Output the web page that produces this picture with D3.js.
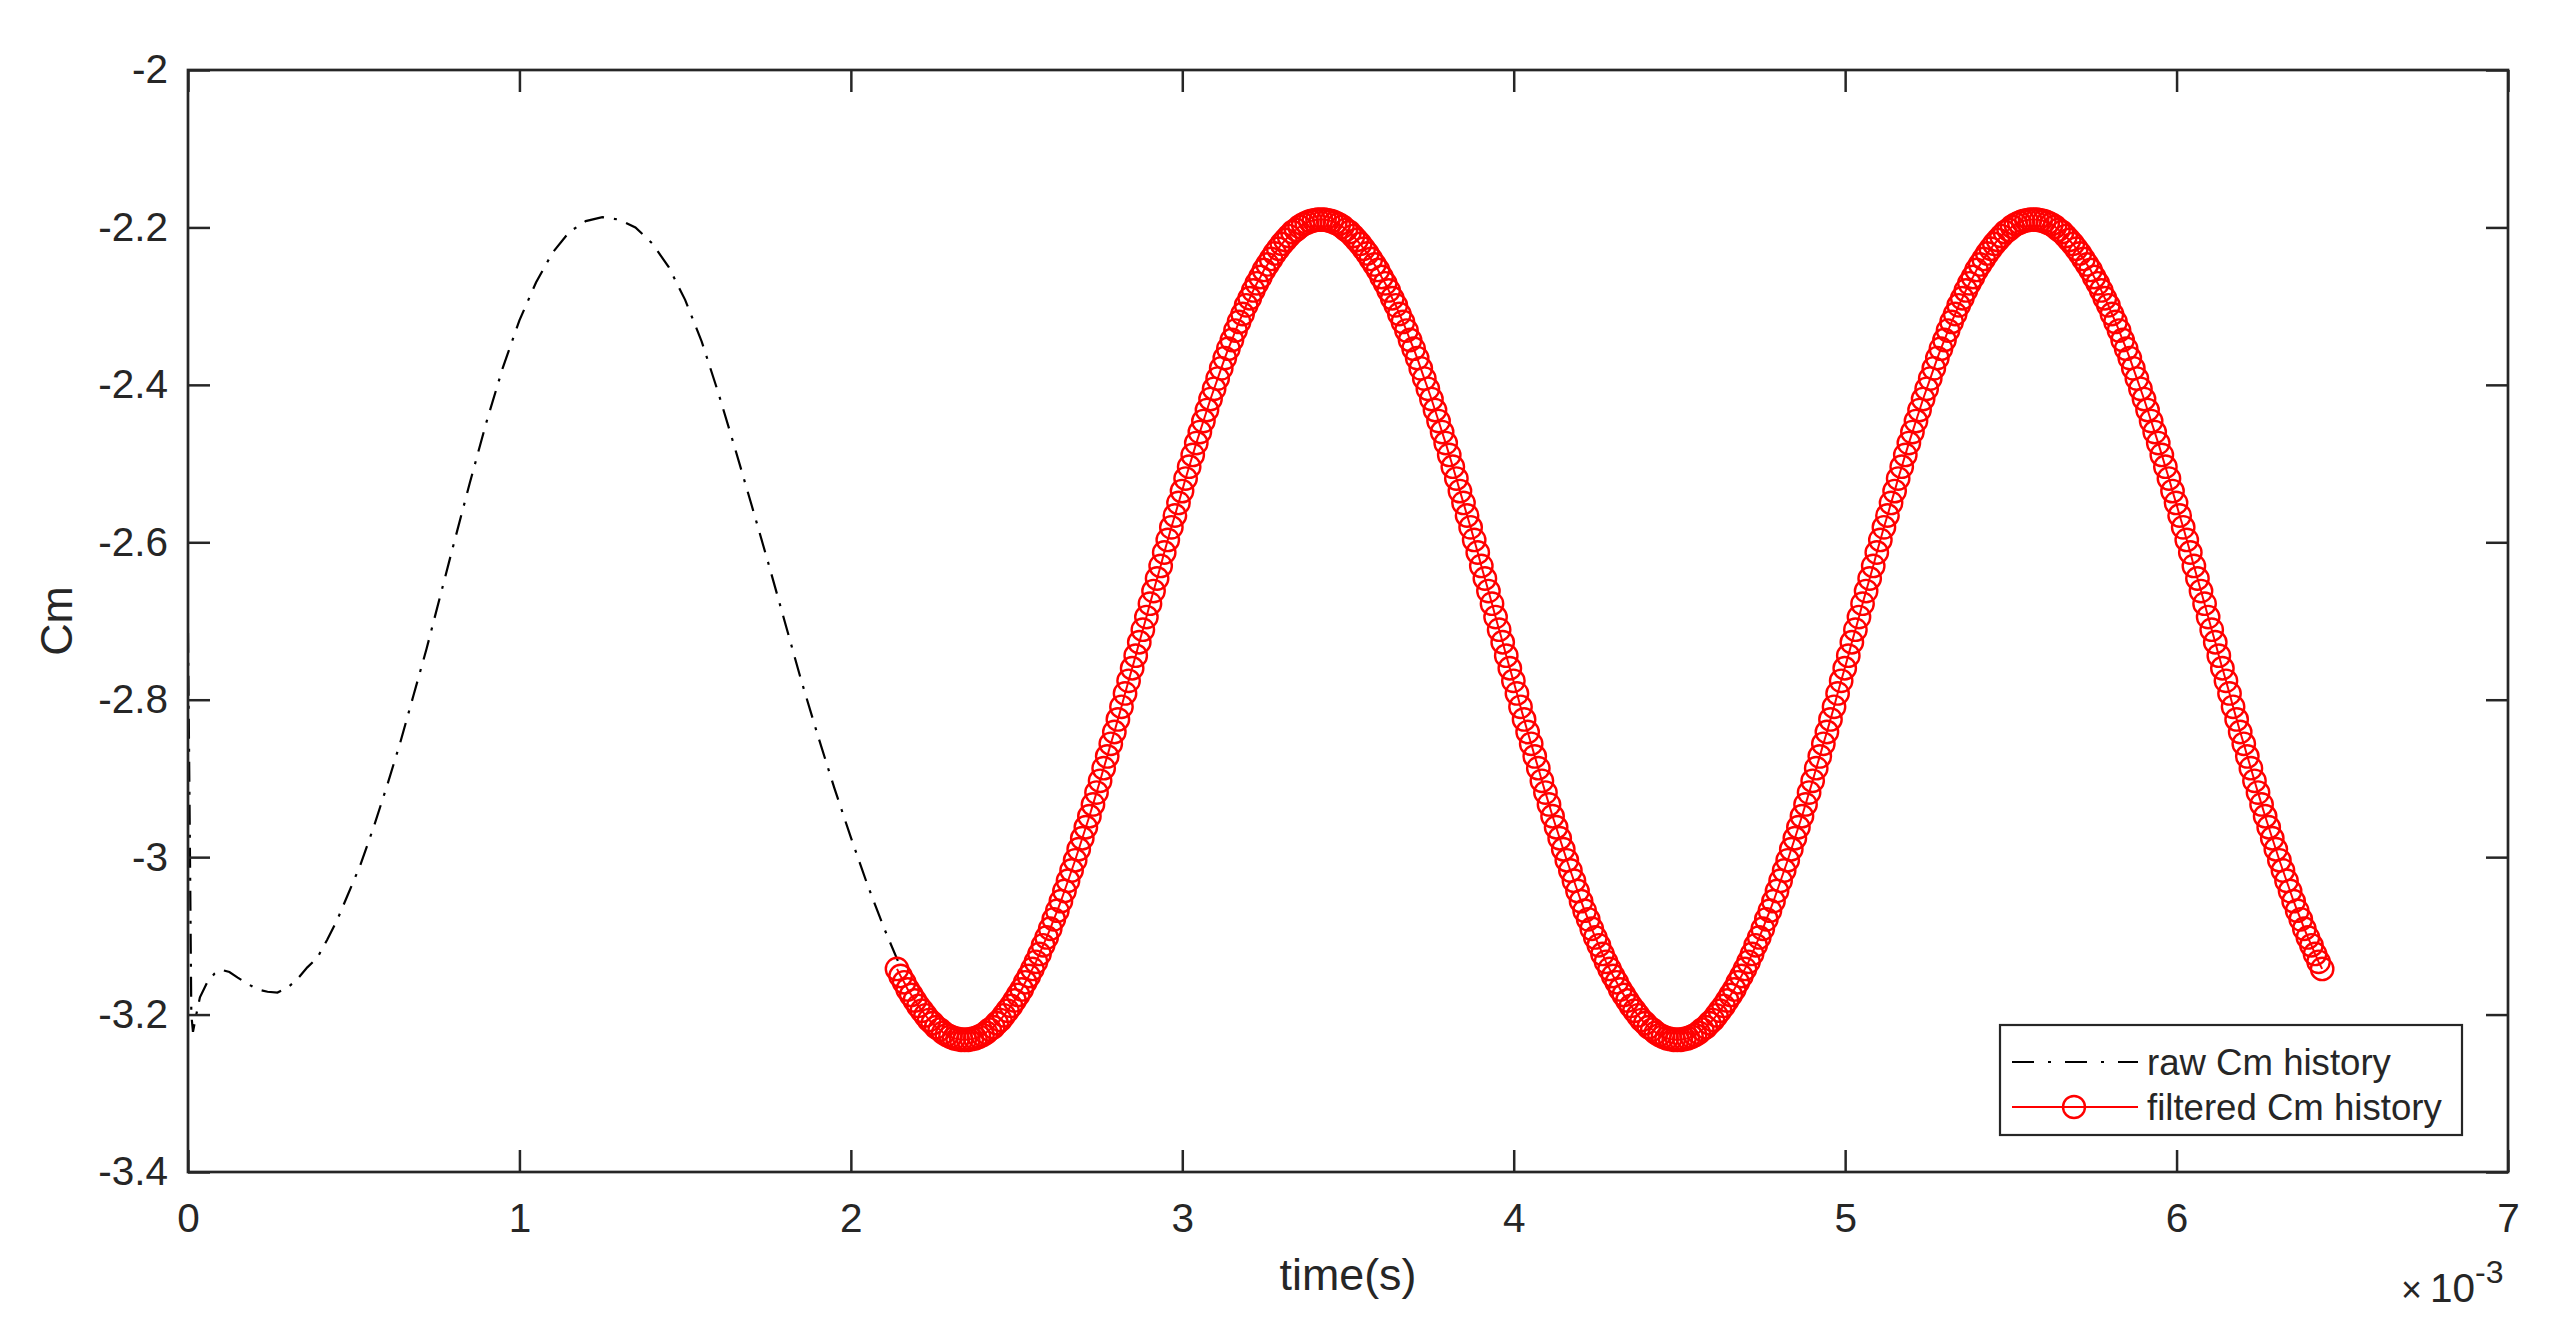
<!DOCTYPE html>
<html>
<head>
<meta charset="utf-8">
<script src="https://cdn.jsdelivr.net/npm/d3@7"></script>
<style>
  html, body { margin: 0; padding: 0; background: #ffffff; }
  svg { display: block; }
  text { font-family: "Liberation Sans", Arial, Helvetica, sans-serif; fill: #262626; }
</style>
</head>
<body>
<svg id="chart" width="2557" height="1341"></svg>
<script>
// ---------------- DATA ----------------
// x tick labels (time in units of 1e-3 s)
const xTicks = [0, 1, 2, 3, 4, 5, 6, 7];
const yTicks = [-3.4, -3.2, -3, -2.8, -2.6, -2.4, -2.2, -2];

// raw Cm history (time in ms, value)
const rawTimeMs = [0.000, 0.005, 0.010, 0.015, 0.025, 0.036, 0.057, 0.080, 0.100, 0.125,
  0.150, 0.180, 0.210, 0.240, 0.270, 0.300, 0.330, 0.360, 0.390, 0.420,
  0.450, 0.480, 0.520, 0.560, 0.600, 0.640, 0.680, 0.720, 0.760, 0.800,
  0.850, 0.900, 0.950, 1.000, 1.050, 1.100, 1.150, 1.200, 1.250, 1.300,
  1.350, 1.400, 1.450, 1.500, 1.550, 1.600, 1.650, 1.700, 1.750, 1.800,
  1.850, 1.900, 1.950, 2.000, 2.050, 2.100, 2.150];
const rawCm = [-2.715, -2.950, -3.200, -3.222, -3.200, -3.178, -3.160, -3.148, -3.143, -3.146,
  -3.153, -3.161, -3.168, -3.171, -3.172, -3.166, -3.155, -3.140, -3.128, -3.105,
  -3.080, -3.050, -3.010, -2.962, -2.910, -2.855, -2.795, -2.735, -2.670, -2.605,
  -2.525, -2.448, -2.378, -2.318, -2.270, -2.232, -2.206, -2.192, -2.187, -2.190,
  -2.200, -2.220, -2.250, -2.292, -2.345, -2.410, -2.480, -2.552, -2.625, -2.700,
  -2.775, -2.845, -2.912, -2.975, -3.035, -3.090, -3.140];

// filtered Cm history: sampled on a uniform time grid
const filtStartMs = 2.13925;
const filtStepMs = 0.01075;
const filtCm = [
  -3.142,
  -3.151,-3.159,-3.168,-3.175,-3.182,-3.189,-3.195,-3.201,-3.207,-3.211,-3.216,-3.219,-3.223,-3.226,-3.228,-3.230,-3.231,-3.232,-3.232,
  -3.232,-3.231,-3.230,-3.228,-3.226,-3.223,-3.219,-3.216,-3.211,-3.207,
  -3.201,-3.195,-3.189,-3.182,-3.175,-3.168,-3.159,-3.151,-3.142,-3.133,
  -3.123,-3.112,-3.102,-3.091,-3.079,-3.068,-3.056,-3.043,-3.030,-3.017,
  -3.004,-2.990,-2.976,-2.962,-2.948,-2.933,-2.918,-2.903,-2.887,-2.872,
  -2.856,-2.841,-2.825,-2.809,-2.792,-2.776,-2.760,-2.744,-2.727,-2.711,
  -2.695,-2.678,-2.662,-2.646,-2.630,-2.613,-2.597,-2.581,-2.566,-2.550,
  -2.535,-2.519,-2.504,-2.489,-2.474,-2.460,-2.446,-2.432,-2.418,-2.405,
  -2.392,-2.379,-2.366,-2.354,-2.343,-2.331,-2.320,-2.310,-2.299,-2.290,
  -2.280,-2.271,-2.263,-2.254,-2.247,-2.240,-2.233,-2.227,-2.221,-2.216,
  -2.211,-2.206,-2.203,-2.199,-2.196,-2.194,-2.192,-2.191,-2.190,-2.190,
  -2.190,-2.191,-2.192,-2.194,-2.196,-2.199,-2.203,-2.206,-2.211,-2.216,
  -2.221,-2.227,-2.233,-2.240,-2.247,-2.254,-2.263,-2.271,-2.280,-2.290,
  -2.299,-2.310,-2.320,-2.331,-2.343,-2.354,-2.366,-2.379,-2.392,-2.405,
  -2.418,-2.432,-2.446,-2.460,-2.474,-2.489,-2.504,-2.519,-2.535,-2.550,
  -2.566,-2.581,-2.597,-2.613,-2.630,-2.646,-2.662,-2.678,-2.695,-2.711,
  -2.727,-2.744,-2.760,-2.776,-2.792,-2.809,-2.825,-2.841,-2.856,-2.872,
  -2.887,-2.903,-2.918,-2.933,-2.948,-2.962,-2.976,-2.990,-3.004,-3.017,
  -3.030,-3.043,-3.056,-3.068,-3.079,-3.091,-3.102,-3.112,-3.123,-3.133,
  -3.142,-3.151,-3.159,-3.168,-3.175,-3.182,-3.189,-3.195,-3.201,-3.207,
  -3.211,-3.216,-3.219,-3.223,-3.226,-3.228,-3.230,-3.231,-3.232,-3.232,
  -3.232,-3.231,-3.230,-3.228,-3.226,-3.223,-3.219,-3.216,-3.211,-3.207,
  -3.201,-3.195,-3.189,-3.182,-3.175,-3.168,-3.159,-3.151,-3.142,-3.133,
  -3.123,-3.112,-3.102,-3.091,-3.079,-3.068,-3.056,-3.043,-3.030,-3.017,
  -3.004,-2.990,-2.976,-2.962,-2.948,-2.933,-2.918,-2.903,-2.887,-2.872,
  -2.856,-2.841,-2.825,-2.809,-2.792,-2.776,-2.760,-2.744,-2.727,-2.711,
  -2.695,-2.678,-2.662,-2.646,-2.630,-2.613,-2.597,-2.581,-2.566,-2.550,
  -2.535,-2.519,-2.504,-2.489,-2.474,-2.460,-2.446,-2.432,-2.418,-2.405,
  -2.392,-2.379,-2.366,-2.354,-2.343,-2.331,-2.320,-2.310,-2.299,-2.290,
  -2.280,-2.271,-2.263,-2.254,-2.247,-2.240,-2.233,-2.227,-2.221,-2.216,
  -2.211,-2.206,-2.203,-2.199,-2.196,-2.194,-2.192,-2.191,-2.190,-2.190,
  -2.190,-2.191,-2.192,-2.194,-2.196,-2.199,-2.203,-2.206,-2.211,-2.216,
  -2.221,-2.227,-2.233,-2.240,-2.247,-2.254,-2.263,-2.271,-2.280,-2.290,
  -2.299,-2.310,-2.320,-2.331,-2.343,-2.354,-2.366,-2.379,-2.392,-2.405,
  -2.418,-2.432,-2.446,-2.460,-2.474,-2.489,-2.504,-2.519,-2.535,-2.550,
  -2.566,-2.581,-2.597,-2.613,-2.630,-2.646,-2.662,-2.678,-2.695,-2.711,
  -2.727,-2.744,-2.760,-2.776,-2.792,-2.809,-2.825,-2.841,-2.856,-2.872,
  -2.887,-2.903,-2.918,-2.933,-2.948,-2.962,-2.976,-2.990,-3.004,-3.017,
  -3.030,-3.043,-3.056,-3.068,-3.079,-3.091,-3.102,-3.112,-3.123,-3.133,
  -3.142
];
const legendLabels = ["raw Cm history", "filtered Cm history"];

// ---------------- CHART ----------------
const svg = d3.select("#chart");
const L = 188, R = 2508, T = 70, B = 1172;
const axisColor = "#262626";

const x = d3.scaleLinear().domain([0, 7]).range([L, R]);
const y = d3.scaleLinear().domain([-3.4, -2]).range([B, T]);

const rawData = rawTimeMs.map((t, i) => ({ t, v: rawCm[i] }));
const filtData = filtCm.map((v, i) => ({ t: filtStartMs + i * filtStepMs, v }));

const defs = svg.append("defs");
defs.append("clipPath").attr("id", "plotClip")
  .append("rect").attr("x", L).attr("y", T).attr("width", R - L).attr("height", B - T);

svg.append("rect").attr("x", L).attr("y", T).attr("width", R - L).attr("height", B - T)
  .attr("fill", "#ffffff");

const line = d3.line().x(d => x(d.t)).y(d => y(d.v));

const plotG = svg.append("g").attr("clip-path", "url(#plotClip)");

plotG.append("path").datum(rawData)
  .attr("d", line)
  .attr("fill", "none")
  .attr("stroke", "#000000")
  .attr("stroke-width", 2.2)
  .attr("stroke-dasharray", "20,10,3,10");

plotG.append("path").datum(filtData)
  .attr("d", line)
  .attr("fill", "none")
  .attr("stroke", "#ff0000")
  .attr("stroke-width", 2);

svg.append("g").selectAll("circle").data(filtData).join("circle")
  .attr("cx", d => x(d.t))
  .attr("cy", d => y(d.v))
  .attr("r", 11.2)
  .attr("fill", "none")
  .attr("stroke", "#ff0000")
  .attr("stroke-width", 2.4);

// axes (ticks pointing inward)
const tickLen = 22;
const fontTick = 40.5;

const gx = svg.append("g").attr("transform", `translate(0,${B})`)
  .call(d3.axisBottom(x).tickValues(xTicks).tickSizeInner(-tickLen).tickSizeOuter(0)
    .tickPadding(31).tickFormat(d3.format("d")));
const gxt = svg.append("g").attr("transform", `translate(0,${T})`)
  .call(d3.axisTop(x).tickValues(xTicks).tickSizeInner(-tickLen).tickSizeOuter(0).tickFormat(""));
const gy = svg.append("g").attr("transform", `translate(${L},0)`)
  .call(d3.axisLeft(y).tickValues(yTicks).tickSizeInner(-tickLen).tickSizeOuter(0)
    .tickPadding(20).tickFormat(d => String(+d.toFixed(1))));
const gyr = svg.append("g").attr("transform", `translate(${R},0)`)
  .call(d3.axisRight(y).tickValues(yTicks).tickSizeInner(-tickLen).tickSizeOuter(0).tickFormat(""));

[gx, gxt, gy, gyr].forEach(g => {
  g.select(".domain").remove();
  g.selectAll(".tick line").attr("stroke", axisColor).attr("stroke-width", 2.5);
  g.selectAll(".tick text")
    .attr("fill", axisColor)
    .style("font-family", '"Liberation Sans", Arial, Helvetica, sans-serif')
    .style("font-size", fontTick + "px");
});

// box
svg.append("rect").attr("x", L).attr("y", T).attr("width", R - L).attr("height", B - T)
  .attr("fill", "none").attr("stroke", axisColor).attr("stroke-width", 2.7);

// axis labels
svg.append("text")
  .attr("x", (L + R) / 2).attr("y", 1290)
  .attr("text-anchor", "middle")
  .style("font-size", "44.8px")
  .text("time(s)");

svg.append("text")
  .attr("transform", `translate(72,${(T + B) / 2}) rotate(-90)`)
  .attr("text-anchor", "middle")
  .style("font-size", "44.8px")
  .text("Cm");

// exponent label
const expG = svg.append("text").attr("x", 2401).attr("y", 1302).style("font-size", "40.5px");
expG.append("tspan").style("font-size", "36px").text("\u00d7");
expG.append("tspan").attr("dx", 8).text("10");
expG.append("tspan").attr("dy", -19).style("font-size", "32px").text("-3");

// legend
const lg = svg.append("g");
lg.append("rect").attr("x", 2000).attr("y", 1025).attr("width", 462).attr("height", 110)
  .attr("fill", "#ffffff").attr("stroke", axisColor).attr("stroke-width", 2.2);
const rowY = [1062, 1107];
lg.append("line").attr("x1", 2012).attr("x2", 2138).attr("y1", rowY[0]).attr("y2", rowY[0])
  .attr("stroke", "#000000").attr("stroke-width", 2.2).attr("stroke-dasharray", "22,14,3,14");
lg.append("line").attr("x1", 2012).attr("x2", 2138).attr("y1", rowY[1]).attr("y2", rowY[1])
  .attr("stroke", "#ff0000").attr("stroke-width", 2);
lg.append("circle").attr("cx", 2074).attr("cy", rowY[1]).attr("r", 11)
  .attr("fill", "none").attr("stroke", "#ff0000").attr("stroke-width", 2.4);
lg.selectAll("text.lgt").data(legendLabels).join("text")
  .attr("class", "lgt")
  .attr("x", 2147).attr("y", (d, i) => rowY[i])
  .attr("dy", "0.36em")
  .style("font-size", "36.6px")
  .text(d => d);
</script>
</body>
</html>
